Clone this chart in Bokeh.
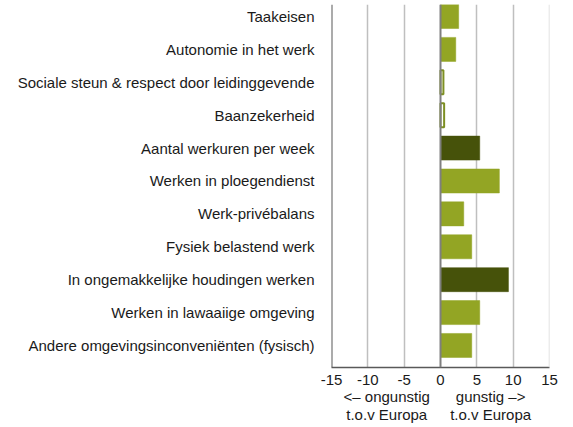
from bokeh.plotting import figure
from bokeh.models import Range1d, FixedTicker, LinearAxis, Span, ColumnDataSource
from bokeh.embed import file_html
from bokeh.resources import INLINE

# ---- data ----
categorieen = [
    "Taakeisen",
    "Autonomie in het werk",
    "Sociale steun & respect door leidinggevende",
    "Baanzekerheid",
    "Aantal werkuren per week",
    "Werken in ploegendienst",
    "Werk-privébalans",
    "Fysiek belastend werk",
    "In ongemakkelijke houdingen werken",
    "Werken in lawaaiige omgeving",
    "Andere omgevingsinconveniënten (fysisch)",
]
waarden = [2.5, 2.1, 0.4, 0.5, 5.4, 8.1, 3.2, 4.3, 9.35, 5.4, 4.3]
groep = ["licht", "licht", "open", "open", "donker", "licht", "licht", "licht", "donker", "licht", "licht"]
x_ticks = [-15, -10, -5, 0, 5, 10, 15]
x_tick_labels = ["-15", "-10", "-5", "0", "5", "10", "15"]
sub_pos = [-7.4, 6.9]
sub_labels = ["<\u2013 ongunstig\nt.o.v Europa", "gunstig \u2013>\nt.o.v Europa"]

LICHT = "#93A524"
DONKER = "#46520A"
fill_map = {"licht": LICHT, "donker": DONKER, "open": "white"}
line_map = {"licht": LICHT, "donker": DONKER, "open": "#7D8F22"}

FONT = "Liberation Sans"

n = len(categorieen)
src = ColumnDataSource(dict(
    y=list(range(n)),
    right=waarden,
    fill=[fill_map[g] for g in groep],
    line=[line_map[g] for g in groep],
    lw=[2 if g == "open" else 0.5 for g in groep],
))

p = figure(
    frame_width=218, frame_height=363,
    x_range=Range1d(-15, 15),
    y_range=Range1d(n - 1 + 0.67, -0.365),
    output_backend="svg", toolbar_location=None,
    min_border_left=331, min_border_right=16, min_border_top=4,
    min_border_bottom=0,
    x_axis_location=None, y_axis_location=None,
)
p.outline_line_color = None
p.background_fill_color = "white"
p.border_fill_color = "white"

# gridlines
p.xgrid.ticker = FixedTicker(ticks=[-10, -5, 5, 10])
p.xgrid.grid_line_color = "#BFBFBF"
p.xgrid.grid_line_width = 1.5
p.ygrid.grid_line_color = None
p.add_layout(Span(location=15, dimension="height", line_color="#D9D9D9", line_width=1.5))
p.add_layout(Span(location=-15, dimension="height", line_color="#595959", line_width=2))

p.hbar(y="y", left=0, right="right", height=0.73, source=src,
       fill_color="fill", line_color="line", line_width="lw")

p.add_layout(Span(location=0, dimension="height", line_color="#7F7F7F", line_width=2))

# y axis (category labels)
yax = LinearAxis(ticker=FixedTicker(ticks=list(range(n))),
                 major_label_overrides={i: c for i, c in enumerate(categorieen)})
yax.axis_line_color = None
yax.major_tick_line_color = None
yax.minor_tick_line_color = None
yax.major_tick_out = 0
yax.major_tick_in = 0
yax.major_label_standoff = 17
yax.major_label_text_font = FONT
yax.major_label_text_font_size = "15px"
yax.major_label_text_color = "#1a1a1a"
p.add_layout(yax, "left")

# x axis
xax = LinearAxis(ticker=FixedTicker(ticks=x_ticks),
                 major_label_overrides={t: l for t, l in zip(x_ticks, x_tick_labels)})
xax.axis_line_color = "#595959"
xax.axis_line_width = 1.5
xax.major_tick_line_color = None
xax.minor_tick_line_color = None
xax.major_tick_out = 0
xax.major_tick_in = 0
xax.major_label_standoff = 7
xax.major_label_text_font = FONT
xax.major_label_text_font_size = "15px"
xax.major_label_text_color = "#1a1a1a"
p.add_layout(xax, "below")

# second axis with explanatory labels
xax2 = LinearAxis(ticker=FixedTicker(ticks=sub_pos),
                  major_label_overrides={t: l for t, l in zip(sub_pos, sub_labels)})
xax2.axis_line_color = None
xax2.major_tick_line_color = None
xax2.minor_tick_line_color = None
xax2.major_tick_out = 0
xax2.major_tick_in = 0
xax2.major_label_standoff = 0
xax2.major_label_text_font = FONT
xax2.major_label_text_font_size = "15px"
xax2.major_label_text_color = "#1a1a1a"
xax2.major_label_text_line_height = 1.1
p.add_layout(xax2, "below")

open("out.html", "w").write(file_html(p, INLINE))
